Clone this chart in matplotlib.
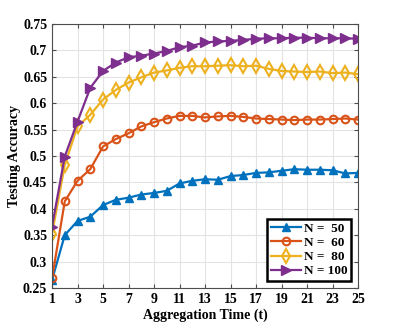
import numpy as np
import matplotlib
matplotlib.use("Agg")
from matplotlib import pyplot as plt

plt.rcParams['font.family'] = ['Liberation Serif', 'DejaVu Serif']
plt.rcParams['font.weight'] = 'bold'

t = list(range(1, 26))

acc_50 = [0.265, 0.350, 0.377, 0.385, 0.407, 0.417, 0.421, 0.427, 0.430, 0.434,
          0.448, 0.453, 0.456, 0.455, 0.462, 0.464, 0.468, 0.469, 0.472, 0.475,
          0.474, 0.474, 0.473, 0.467, 0.468]
acc_60 = [0.268, 0.414, 0.453, 0.475, 0.518, 0.532, 0.543, 0.556, 0.564, 0.571,
          0.576, 0.576, 0.573, 0.575, 0.576, 0.574, 0.571, 0.570, 0.569, 0.568,
          0.569, 0.569, 0.570, 0.571, 0.569]
acc_80 = [0.352, 0.483, 0.556, 0.578, 0.607, 0.625, 0.639, 0.649, 0.658, 0.662,
          0.667, 0.670, 0.670, 0.671, 0.672, 0.670, 0.671, 0.665, 0.661, 0.660,
          0.659, 0.660, 0.657, 0.658, 0.655]
acc_100 = [0.366, 0.499, 0.565, 0.629, 0.661, 0.677, 0.687, 0.690, 0.694, 0.699,
           0.706, 0.709, 0.715, 0.717, 0.718, 0.720, 0.722, 0.723, 0.723, 0.724,
           0.724, 0.723, 0.723, 0.723, 0.722]

labels = ['N =  50', 'N =  60', 'N =  80', 'N = 100']

fig = plt.figure(figsize=(3.95, 3.24), dpi=100)
ax = fig.add_axes([52/395, 1-288/324, 306/395, 264/324])

ax.plot(t, acc_50, color=(0, 0.447, 0.741), marker='^', ms=6, lw=1.6,
        label=labels[0])
ax.plot(t, acc_60, color=(0.85, 0.325, 0.098), marker='o', ms=5.5, mfc='none',
        mew=1.5, lw=1.6, label=labels[1])
ax.plot(t, acc_80, color=(0.929, 0.694, 0.125), marker='d', ms=7, mfc='none',
        mew=1.5, lw=1.6, label=labels[2])
ax.plot(t, acc_100, color=(0.494, 0.184, 0.556), marker='>', ms=7, lw=1.6,
        label=labels[3])

ax.set_xlim(1, 25)
ax.set_ylim(0.25, 0.75)
ax.set_xticks(range(1, 26, 2))
ax.set_yticks(np.arange(0.25, 0.76, 0.05))
ax.set_yticklabels(['0.25', '0.3', '0.35', '0.4', '0.45', '0.5', '0.55',
                    '0.6', '0.65', '0.7', '0.75'])
ax.grid(True, color='#e3e3e3', lw=0.8)
ax.set_axisbelow(True)
ax.tick_params(direction='in', top=True, right=True, labelsize=10,
               color='#4d4d4d', length=3)
for s in ax.spines.values():
    s.set_color('#4d4d4d')
    s.set_linewidth(0.8)

ax.set_xlabel('Aggregation Time (t)', fontsize=10, fontweight='bold', labelpad=2)
ax.set_ylabel('Testing Accuracy', fontsize=10, fontweight='bold', labelpad=1)

leg = ax.legend(loc='lower right', fontsize=9.5, fancybox=False,
                edgecolor='black', framealpha=1, handlelength=2.3,
                borderpad=0.3, labelspacing=0.15, handletextpad=0.2,
                borderaxespad=0.5)
leg.get_frame().set_linewidth(1.8)

fig.savefig('out.png', dpi=100)
